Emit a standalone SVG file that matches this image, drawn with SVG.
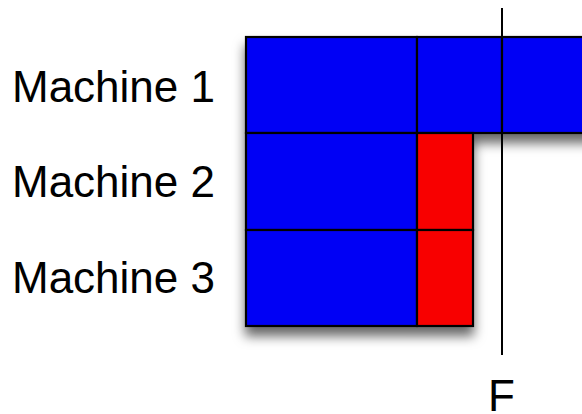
<svg xmlns="http://www.w3.org/2000/svg" width="582" height="414" viewBox="0 0 582 414">
  <defs>
    <filter id="shadow" x="-20%" y="-20%" width="140%" height="150%">
      <feDropShadow dx="0" dy="9" stdDeviation="6" flood-color="#000" flood-opacity="0.6"/>
    </filter>
  </defs>
  <style>
    .blue { fill: #0000f5; stroke: #000; stroke-width: 2.2; }
    .red { fill: #f80000; stroke: #000; stroke-width: 2.2; }
    .label { font-family: "Liberation Sans", Arial, sans-serif; font-size: 44px; fill: #000; }
    .marker { stroke: #000; stroke-width: 2; fill: none; }
  </style>

  <!-- schedule blocks, shadowed as one unit -->
  <g id="schedule" filter="url(#shadow)">
    <g id="m1">
      <rect class="blue" x="246" y="37" width="171" height="96"/>
      <rect class="blue" x="417" y="37" width="85" height="96"/>
      <rect class="blue" x="502" y="37" width="100" height="96"/>
    </g>
    <g id="m2">
      <rect class="blue" x="246" y="133" width="171" height="97"/>
      <rect class="red" x="417" y="133" width="56" height="97"/>
    </g>
    <g id="m3">
      <rect class="blue" x="246" y="230" width="171" height="96"/>
      <rect class="red" x="417" y="230" width="56" height="96"/>
    </g>
  </g>

  <!-- time marker -->
  <g id="connectors">
    <line class="marker" x1="502" y1="8" x2="502" y2="355"/>
  </g>

  <g id="labels">
    <text class="label" x="12" y="102">Machine 1</text>
    <text class="label" x="12" y="197">Machine 2</text>
    <text class="label" x="12" y="293">Machine 3</text>
    <text class="label" x="488" y="411">F</text>
  </g>
</svg>
